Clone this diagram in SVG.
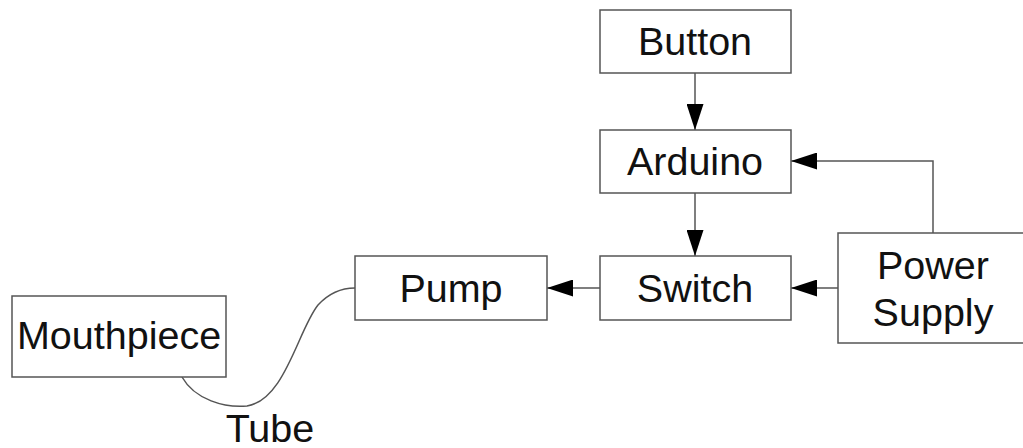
<svg xmlns="http://www.w3.org/2000/svg" width="1023" height="448" viewBox="0 0 1023 448">
<style>
.box{fill:#fff;stroke:#555;stroke-width:1.5}
.lbl{font-family:"Liberation Sans",Arial,sans-serif;font-size:39.5px;fill:#111;text-anchor:middle}
.con{fill:none;stroke:#555;stroke-width:1.5}
</style>
<defs>
<marker id="arr" viewBox="0 0 26 17" refX="26" refY="8.5" markerWidth="26" markerHeight="17" markerUnits="userSpaceOnUse" orient="auto">
<path d="M0,0 L26,8.5 L0,17 Z" fill="#000"/>
</marker>
</defs>
<rect width="1023" height="448" fill="#fff"/>
<g id="connectors">
<line class="con" x1="695" y1="73" x2="695" y2="130" marker-end="url(#arr)"/>
<line class="con" x1="695" y1="193" x2="695" y2="256" marker-end="url(#arr)"/>
<line class="con" x1="600" y1="288" x2="547" y2="288" marker-end="url(#arr)"/>
<line class="con" x1="838" y1="288" x2="791" y2="288" marker-end="url(#arr)"/>
<polyline class="con" points="933,233 933,161 791,161" marker-end="url(#arr)"/>
<path id="tube" class="con" d="M182,377 C195,400 225,408 247,406 C285,400 298,330 318,305 C330,292 342,288 355,288"/>
<text class="lbl" x="270" y="442">Tube</text>
</g>
<g id="button"><rect class="box" x="600" y="10" width="191" height="63"/><text class="lbl" x="695" y="55">Button</text></g>
<g id="arduino"><rect class="box" x="600" y="130" width="191" height="63"/><text class="lbl" x="695" y="175">Arduino</text></g>
<g id="switch"><rect class="box" x="600" y="256" width="191" height="64"/><text class="lbl" x="695" y="302">Switch</text></g>
<g id="pump"><rect class="box" x="355" y="256" width="192" height="64"/><text class="lbl" x="451" y="302">Pump</text></g>
<g id="power"><rect class="box" x="838" y="233" width="190" height="110"/><text class="lbl" x="933" y="279">Power</text><text class="lbl" x="933" y="326">Supply</text></g>
<g id="mouthpiece"><rect class="box" x="12" y="296" width="214" height="81"/><text class="lbl" x="119" y="349">Mouthpiece</text></g>
</svg>
